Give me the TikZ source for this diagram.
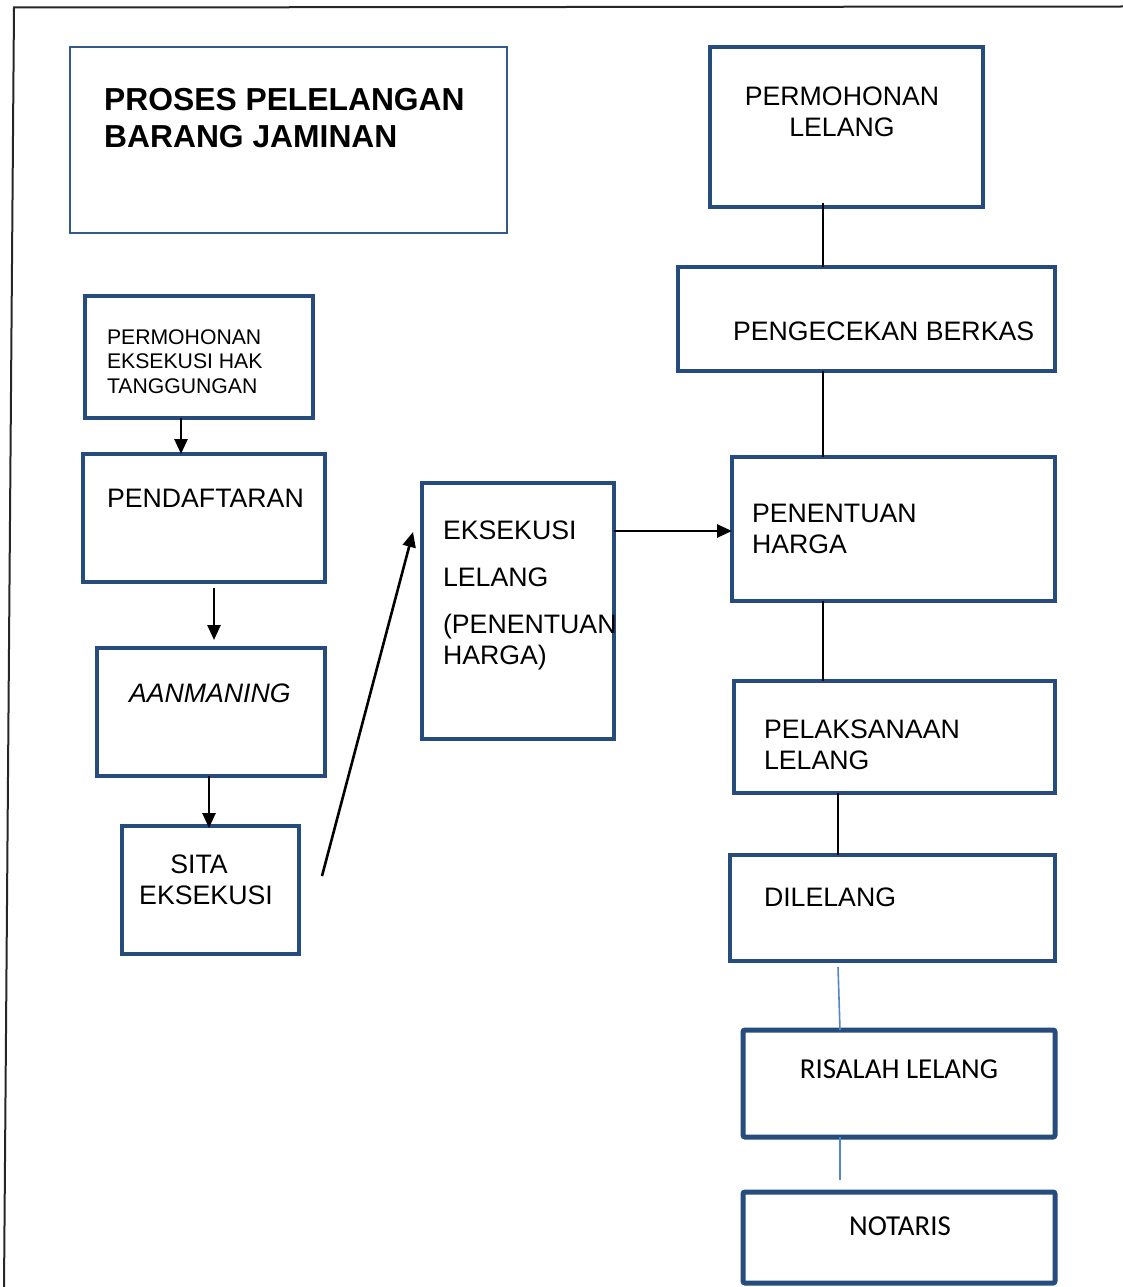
\documentclass[tikz,border=0pt]{standalone}
\usepackage{fontspec}
\setmainfont{Liberation Sans}
\newfontfamily\carlito{Carlito}
\usetikzlibrary{arrows.meta}
\definecolor{boxblue}{RGB}{38,75,125}
\definecolor{titleblue}{RGB}{52,90,140}
\definecolor{lineblue}{RGB}{84,134,196}
\newcommand{\bx}[6]{\node[#6,minimum width={(#4-#2)*1pt},minimum height={(#5-#3)*1pt}] (#1) at ({(#2+#4)/2},{(#3+#5)/2}) {};}
\begin{document}
\begin{tikzpicture}[x=1pt,y=-1pt,
  box/.style={draw=boxblue,line width=3.8pt,inner sep=0pt,outer sep=0pt,rectangle},
  titlebox/.style={draw=titleblue,line width=2.2pt,inner sep=0pt,outer sep=0pt,rectangle},
  rbox/.style={draw=boxblue,line width=5pt,rounded corners=2pt,inner sep=0pt,outer sep=0pt,rectangle},
  txt/.style={inner sep=0pt,outer sep=0pt,align=left,anchor=base west,font=\fontsize{26.7}{31}\selectfont},
  ctxt/.style={inner sep=0pt,outer sep=0pt,align=center,anchor=base,font=\fontsize{26.7}{31}\selectfont},
  small/.style={inner sep=0pt,outer sep=0pt,align=left,anchor=base west,font=\fontsize{21.2}{24.5}\selectfont},
  conn/.style={draw=black,line width=2.6pt},
  thin/.style={draw=lineblue,line width=1.6pt},
  arr/.style={draw=black,line width=2.6pt,-{Triangle[length=15pt,width=13pt]}}]
\useasboundingbox (0,0) rectangle (1123,1287);
% outer frame
\draw[line width=2pt,color=black!85] (1123,6.5) -- (14,7.5) -- (4,1290);
% title
\bx{title}{70}{47}{507}{233}{titlebox}
\node[inner sep=0pt,align=left,anchor=base west,font=\fontsize{31.8}{36}\selectfont\bfseries] (titletext) at (104,147) {PROSES PELELANGAN\\BARANG JAMINAN};
% right column
\bx{pl}{710}{47}{983}{207}{box}
\node[ctxt] (plt) at (842,136) {PERMOHONAN\\LELANG};
\bx{pb}{678}{267}{1055}{371}{box}
\node[txt] (pbt) at (733,340) {PENGECEKAN BERKAS};
\bx{ph}{732}{457}{1055}{601}{box}
\node[txt] (pht) at (752,553) {PENENTUAN\\HARGA};
\bx{pel}{734}{681}{1055}{793}{box}
\node[txt] (pelt) at (764,769) {PELAKSANAAN\\LELANG};
\bx{dl}{730}{855}{1055}{961}{box}
\node[txt] (dlt) at (764,906) {DILELANG};
\bx{rl}{743}{1030}{1055}{1137}{rbox}
\node[inner sep=0pt,anchor=base,font=\carlito\fontsize{28.9}{33}\selectfont] (rlt) at (899,1078) {RISALAH LELANG};
\bx{nt}{743}{1192}{1055}{1283}{rbox}
\node[inner sep=0pt,anchor=base,font=\carlito\fontsize{28.9}{33}\selectfont] (ntt) at (900,1235) {NOTARIS};
% left column
\bx{pe}{85}{296}{313}{418}{box}
\node[small] (pet) at (107,393) {PERMOHONAN\\EKSEKUSI HAK\\TANGGUNGAN};
\bx{pd}{83}{454}{325}{582}{box}
\node[txt] (pdt) at (107,507) {PENDAFTARAN};
\bx{aa}{97}{648}{325}{776}{box}
\node[txt,font=\fontsize{26.7}{31}\selectfont\itshape] (aat) at (129,702) {AANMANING};
\bx{se}{122}{826}{299}{954}{box}
\node[ctxt] (set) at (206,904) {SITA\hspace*{14pt}\\EKSEKUSI};
\bx{ek}{422}{483}{614}{739}{box}
\node[txt] (ekt) at (443,664) {EKSEKUSI\\[16pt]LELANG\\[16pt](PENENTUAN\\HARGA)};
% coordinates for connectors
\coordinate (xa) at (823,0);
\coordinate (xb) at (838,0);
\coordinate (xc) at (840,0);
\coordinate (x1) at (181,0);
\coordinate (x2) at (214,0);
\coordinate (x3) at (209,0);
\coordinate (ya) at (0,531);
\coordinate (sstart) at (322,876);
\coordinate (send) at (413,532);
\coordinate (b1) at (838,967);
% connectors right
\draw[conn] (xa |- pl.south) ++(0,-4) -- (xa |- pb.north);
\draw[conn] (xa |- pb.south) -- (xa |- ph.north);
\draw[conn] (xa |- ph.south) -- (xa |- pel.north);
\draw[conn] (xb |- pel.south) -- (xb |- dl.north);
\draw[thin] (b1) -- (xc |- rl.north);
\draw[thin] (xc |- rl.south) -- ([yshift=12pt]xc |- nt.north);
% connectors left
\draw[arr] (x1 |- pe.south) -- (x1 |- pd.north);
\draw[arr,shorten <=6pt,shorten >=8pt] (x2 |- pd.south) -- (x2 |- aa.north);
\draw[arr,shorten >=-2pt] (x3 |- aa.south) -- (x3 |- se.north);
\draw[arr] (sstart) -- (send);
\draw[arr] (ek.east |- ya) -- (ph.west |- ya);
\end{tikzpicture}
\end{document}
